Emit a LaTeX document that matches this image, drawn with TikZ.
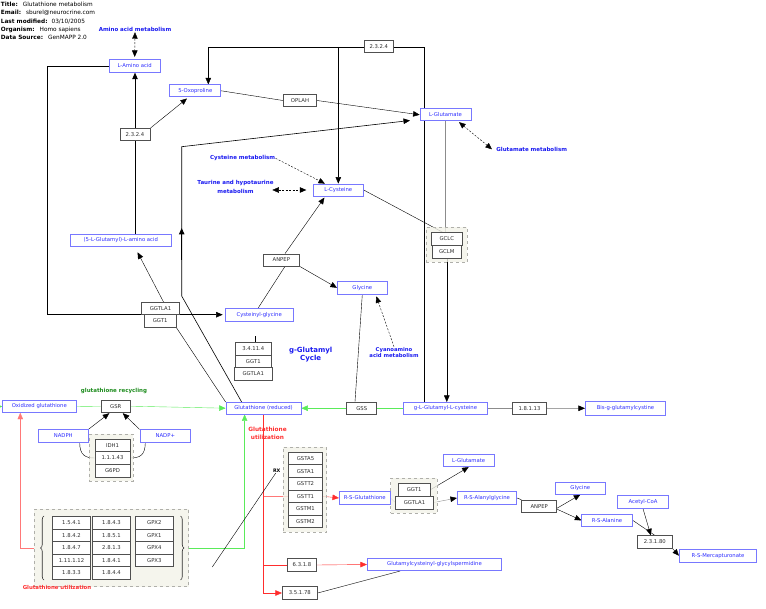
\documentclass[tikz,border=0pt]{standalone}
\usepackage{fontspec}
\setmainfont{DejaVu Sans}
\usetikzlibrary{arrows.meta,decorations.pathreplacing,calc}
\pgfdeclarelayer{bg}
\pgfsetlayers{bg,main}
\definecolor{metc}{RGB}{45,45,255}
\definecolor{metb}{RGB}{120,120,255}
\definecolor{genb}{RGB}{80,80,80}
\definecolor{gent}{RGB}{45,45,45}
\definecolor{grpf}{RGB}{242,242,232}
\definecolor{grpb}{RGB}{175,175,170}
\definecolor{grn}{RGB}{90,235,90}
\definecolor{grnt}{RGB}{30,140,30}
\definecolor{redl}{RGB}{255,45,45}
\definecolor{redp}{RGB}{255,120,120}
\definecolor{pwb}{RGB}{25,25,240}
\definecolor{catg}{RGB}{140,140,140}
\begin{document}
\begin{tikzpicture}[x=1pt,y=-1pt,line width=0.75pt,
  >={Triangle[length=6.5pt,width=5.5pt]},
  wh/.style 2 args={minimum width=#1pt,minimum height=#2pt},
  gene/.style={draw=genb,fill=white,inner sep=0pt,text=gent,font=\fontsize{5.3}{6}\selectfont},
  met/.style={draw=metb,fill=white,inner sep=0pt,text=metc,font=\fontsize{5.3}{6}\selectfont},
  grp/.style={draw=grpb,dashed,fill=grpf,fill opacity=0.8,inner sep=0pt},
  pw/.style={text=pwb,font=\bfseries\fontsize{5.5}{9.5}\selectfont,inner sep=0pt,align=center},
  arr/.style={->},
  garr/.style={-{Triangle[length=6.5pt,width=5.5pt,black]},draw=catg},
  gline/.style={draw=catg},
  grline/.style={draw=grn},
  grarr/.style={->,draw=grn},
  rline/.style={draw=redl},
  rarr/.style={->,draw=redl},
  pline/.style={draw=redp},
  dsh/.style={dashed,dash pattern=on 2pt off 1.5pt},
  dbl/.style={<->,dashed,dash pattern=on 2pt off 1.5pt},
  brc/.style={decorate,decoration={brace,amplitude=3.5pt},draw=gent,line width=0.6pt}
]
\useasboundingbox (0,0) rectangle (766,609);

% header
\node[anchor=north west,align=left,inner sep=0pt,font=\fontsize{5.8}{8.4}\selectfont] (hdr) at (0.5,1.6)
 {\textbf{Title:}\hspace{5pt}Glutathione metabolism\\
  \textbf{Email:}\hspace{5pt}sburel@neurocrine.com\\
  \textbf{Last modified:}\hspace{4pt}03/10/2005\\
  \textbf{Organism:}\hspace{5pt}Homo sapiens\\
  \textbf{Data Source:}\hspace{5pt}GenMAPP 2.0};

% groups
\node[grp,wh={41.3}{35}] (gclgrp) at (446.7,244.8) {};
\node[grp,wh={44}{46.7}] (idhgrp) at (111.3,457.7) {};
\node[grp,wh={43.4}{85}] (gstgrp) at (305,489.8) {};
\node[grp,wh={46.6}{35}] (ggtgrp) at (414,495.8) {};
\node[grp,wh={154.4}{77.4}] (biggrp) at (111.5,548) {};

% pathway labels
\node[pw] (aam) at (135,29.7) {Amino acid metabolism};
\node[pw] (glumet) at (531.7,149.3) {Glutamate metabolism};
\node[pw] (cysmet) at (242.7,158.3) {Cysteine metabolism};
\node[pw] (taur) at (235.5,187) {Taurine and hypotaurine\\metabolism};
\node[pw,font=\bfseries\fontsize{5.3}{6.3}\selectfont] (cyan) at (394,352.3) {Cyanoamino\\acid metabolism};
\node[pw,font=\bfseries\fontsize{7}{8}\selectfont] (ggc) at (310.7,354.5) {g-Glutamyl\\Cycle};
\node[inner sep=0pt,text=grnt,font=\bfseries\fontsize{5.5}{6}\selectfont] (recyc) at (114,391) {glutathione recycling};
\node[inner sep=0pt,text=redl,align=center,font=\bfseries\fontsize{5.8}{8}\selectfont] (util1) at (267.5,433) {Glutathione\\utilization};
\node[inner sep=0pt,text=redl,font=\bfseries\fontsize{5.4}{6}\selectfont] (util2) at (57,587.3) {Glutathione utilization};
\node[inner sep=0pt,font=\bfseries\fontsize{4.8}{6}\selectfont] (rx) at (276.7,471) {RX};

% metabolites
\node[met,wh={51}{13}] (lam) at (134.7,65.8) {L-Amino acid};
\node[met,wh={51}{12}] (oxo) at (195.3,90.8) {5-Oxoproline};
\node[met,wh={51}{12}] (glu) at (445.5,114.8) {L-Glutamate};
\node[met,wh={50}{12}] (cys) at (338.3,190) {L-Cysteine};
\node[met,wh={101.7}{12.3}] (glaa) at (120.8,240.5) {(5-L-Glutamyl)-L-amino acid};
\node[met,wh={50}{12.3}] (gly) at (362.3,287.8) {Glycine};
\node[met,wh={68.3}{12.7}] (cysgly) at (259.2,314.7) {Cysteinyl-glycine};
\node[met,wh={73.3}{11.7}] (oxg) at (39.3,406.5) {Oxidized glutathione};
\node[met,wh={75}{11.7}] (gsh) at (263.5,408.2) {Glutathione (reduced)};
\node[met,wh={84.3}{11.7}] (glucys) at (445.5,408.2) {g-L-Glutamyl-L-cysteine};
\node[met,wh={80.3}{14.7}] (bis) at (625.5,408.3) {Bis-g-glutamylcystine};
\node[met,wh={50}{12.5}] (nadph) at (63.3,435.8) {NADPH};
\node[met,wh={50.7}{12.5}] (nadpp) at (165.3,436) {NADP+};
\node[met,wh={50.7}{12.6}] (rsg) at (364.7,498) {R-S-Glutathione};
\node[met,wh={50.7}{12.4}] (glu2) at (468.7,460.5) {L-Glutamate};
\node[met,wh={59.4}{12.6}] (rsag) at (487,498) {R-S-Alanylglycine};
\node[met,wh={50.7}{12}] (gly2) at (580.3,488.3) {Glycine};
\node[met,wh={50.6}{12.7}] (rsala) at (607,520.3) {R-S-Alanine};
\node[met,wh={50.6}{12.6}] (acoa) at (643,502) {Acetyl-CoA};
\node[met,wh={77.4}{12.7}] (rsm) at (718,555.7) {R-S-Mercapturonate};
\node[met,wh={134.4}{12.4}] (gcgs) at (434.5,564.5) {Glutamylcysteinyl-glycylspermidine};

% genes
\node[gene,wh={29}{12}] (ea) at (378.8,46.8) {2.3.2.4};
\node[gene,wh={33.4}{12.4}] (oplah) at (300,100.5) {OPLAH};
\node[gene,wh={30}{12}] (eb) at (135,134.5) {2.3.2.4};
\node[gene,wh={31.7}{12.6}] (gclc) at (446.8,239) {GCLC};
\node[gene,wh={29}{12.7}] (gclm) at (446.8,251.7) {GCLM};
\node[gene,wh={36}{12}] (anpep) at (281.3,260) {ANPEP};
\node[gene,wh={37.6}{12}] (ggtla1a) at (160.5,308.3) {GGTLA1};
\node[gene,wh={31.7}{13}] (ggt1a) at (160.2,320.8) {GGT1};
\node[gene,wh={35.3}{12.3}] (e34) at (253.3,348.8) {3.4.11.4};
\node[gene,wh={35.3}{12.7}] (ggt1b) at (253.3,361.3) {GGT1};
\node[gene,wh={38}{12.3}] (ggtla1b) at (253.3,373.8) {GGTLA1};
\node[gene,wh={29.7}{12.3}] (gsr) at (115.8,406.2) {GSR};
\node[gene,wh={30}{12.3}] (gss) at (361.7,408.2) {GSS};
\node[gene,wh={34.3}{11.7}] (e181) at (529.5,408.2) {1.8.1.13};
\node[gene,wh={35}{12.3}] (idh1) at (112.5,445.5) {IDH1};
\node[gene,wh={35}{12.6}] (e111) at (112.5,458) {1.1.1.43};
\node[gene,wh={35}{13}] (g6pd) at (112.5,470.8) {G6PD};
\node[gene,wh={34.4}{12.6}] (gsta5) at (305.5,458.5) {GSTA5};
\node[gene,wh={34.4}{12.6}] (gsta1) at (305.5,471.1) {GSTA1};
\node[gene,wh={34.4}{12.6}] (gstt2) at (305.5,483.7) {GSTT2};
\node[gene,wh={34.4}{12.6}] (gstt1) at (305.5,496.3) {GSTT1};
\node[gene,wh={34.4}{12.6}] (gstm1) at (305.5,508.9) {GSTM1};
\node[gene,wh={34.4}{12.6}] (gstm2) at (305.5,521.5) {GSTM2};
\node[gene,wh={31.7}{12.7}] (ggt1c) at (414.2,489.7) {GGT1};
\node[gene,wh={37.6}{13}] (ggtla1c) at (414.5,502.5) {GGTLA1};
\node[gene,wh={35}{12.3}] (anpep2) at (539.2,506.2) {ANPEP};
\node[gene,wh={35}{12.6}] (e231) at (654.8,542) {2.3.1.80};
\node[gene,wh={29.4}{13.4}] (e631) at (302,565) {6.3.1.8};
\node[gene,wh={35}{12.6}] (e351) at (299.8,593) {3.5.1.78};
% table in the big group
\foreach \t [count=\i] in {1.5.4.1,1.8.4.2,1.8.4.7,1.11.1.12,1.8.3.3}
  \node[gene,wh={37.6}{12.5}] (ta\i) at (71.5,510.5+12.5*\i) {\t};
\foreach \t [count=\i] in {1.8.4.3,1.8.5.1,2.8.1.3,1.8.4.1,1.8.4.4}
  \node[gene,wh={37.6}{12.5}] (tb\i) at (111.5,510.5+12.5*\i) {\t};
\foreach \t [count=\i] in {GPX2,GPX1,GPX4,GPX3}
  \node[gene,wh={38}{12.5}] (tc\i) at (154.3,510.5+12.5*\i) {\t};
\draw[brc] (44,580) -- (44,516);
\draw[brc] (180.5,516) -- (180.5,580);

% helper coordinates
\coordinate (k1) at (181.7,296);
\coordinate (k2) at (181.7,146.7);
\coordinate (k3) at (181.7,228);
\coordinate (k4) at (181.7,260);
\coordinate (gluin) at (410,120.5);
\coordinate (oxoin) at (187,98.5);
\coordinate (lft) at (-3,406.5);
\coordinate (rxend) at (212.3,567);

\begin{pgfonlayer}{bg}
\draw[dbl] (aam.south) -- ($(lam.north)+(0,-2)$);
\draw[arr,shorten >=2pt] (lam.west) -| (47,314.7) -- (cysgly.west);
\draw (eb.south) -- (eb.south |- glaa.north);
\draw[arr] (eb.north) -- (eb.north |- lam.south);
\draw[arr] (eb.north east) -- (oxoin);
\draw[arr] (ea.west) -| ($(oxo.north)+(13,0)$);
\draw (ea.east) -| ($(glucys.north west)+(21,0)$);
\draw[arr] (ea.west -| cys.north) -- (cys.north);
\draw (oxo.east) -- (oplah.west);
\draw[arr] (oplah.east) -- (glu.west);
\draw[arr,line width=0.6pt] ($(gsh.north west)+(16,0)$) -- (k1) -- (k2) -- (gluin);
\draw[arr,line width=1pt] (k4) -- (k3);
\draw (ggt1a.south east) -- (gsh.north west);
\draw[arr,shorten >=6pt] ($(ggtla1a.north)+(3,0)$) -- ($(glaa.south)+(14,0)$);
\draw[arr] ($(e34.north)+(1.7,0)$) -- ($(e34.north)+(1.7,0)$ |- cysgly.south);
\draw ($(ggtla1b.south)+(1.7,0)$) -- ($(ggtla1b.south)+(1.7,0)$ |- gsh.north);
\draw ($(cysgly.north)+(-1,0)$) -- ($(anpep.south)+(3.7,0)$);
\draw[arr,shorten >=1.5pt] ($(anpep.north)+(3.7,0)$) -- ($(cys.south)+(-13,0)$);
\draw[arr] (anpep.south east) -- (gly.west);
\draw (gly.south) -- ($(gss.north)+(-6.7,0)$);
\draw[dsh,->] (cyan.north) -- ($(gly.south)+(14,2)$);
\draw[dsh,->] (cysmet.east) -- ($(cys.north west)+(12,0)$);
\draw[dbl] ($(cys.west)+(-40.6,0)$) -- ($(cys.west)+(-6.6,0)$);
\draw[dbl] ($(glu.south)+(13.5,1)$) -- ($(glumet.west)+(-4,0)$);
\draw[gline] (glu.south) -- (glu.south |- gclc.north);
\draw[arr] (gclm.south) -- (gclm.south |- glucys.north);
\draw (cys.east) -- ($(gclc.north)+(-4,0)$);
\draw[grline] (glucys.west) -- (gss.east);
\draw[grarr] (gss.west) -- (gsh.east);
\draw[gline] (glucys.east) -- (e181.west);
\draw[arr] (e181.east) -- (bis.west);
\draw[grline] (oxg.east) -- (gsr.west);
\draw[grarr] (gsr.east) -- (gsh.west);
\draw[grarr] (lft) -- (oxg.west);
\draw[arr] (nadph.north east) -- ($(gsr.south)+(-6.5,0.5)$);
\draw[arr] (nadpp.north west) -- ($(gsr.south)+(7,0.5)$);
\draw ($(nadph.south east)+(-9,0)$) .. controls +(0,13) and +(-9,0) .. (e111.west);
\draw ($(nadpp.south west)+(5.7,0)$) .. controls +(0,13) and +(9,0) .. (e111.east);
\draw[rarr,draw=redp] (biggrp.west) -| ($(oxg.south west)+(18,0)$);
\draw[grarr] (biggrp.east) -| ($(gsh.south west)+(19,0)$);
\draw[rarr] (gsh.south) |- (e351.west);
\draw[pline] (gsh.south |- gstt1.west) -- (gstt1.west);
\draw[rarr] (gstt1.east) -- (rsg.west);
\draw[rline] (gsh.south |- e631.west) -- (e631.west);
\draw[rarr] (e631.east) -- (gcgs.west);
\draw ($(rx.south)+(-1,0)$) -- (rxend);
\draw (e351.east) -- ($(gcgs.south)+(-34.5,0)$);
\draw[gline] (rsg.east) -- (ggtla1c.west);
\draw[garr] (ggtla1c.east) -- (rsag.west);
\draw[arr] (ggt1c.east) -- (glu2.south);
\draw (rsag.east) -- (anpep2.north west);
\draw[arr] ($(anpep2.east)+(0,2)$) -- (gly2.south);
\draw[arr] ($(anpep2.east)+(0,3)$) -- (rsala.west);
\draw (rsala.east) -- (e231.north);
\draw[arr] (acoa.south) -- ($(e231.north)+(-4,0)$);
\draw[arr] (e231.south east) -- (rsm.west);
\end{pgfonlayer}
\end{tikzpicture}
\end{document}
